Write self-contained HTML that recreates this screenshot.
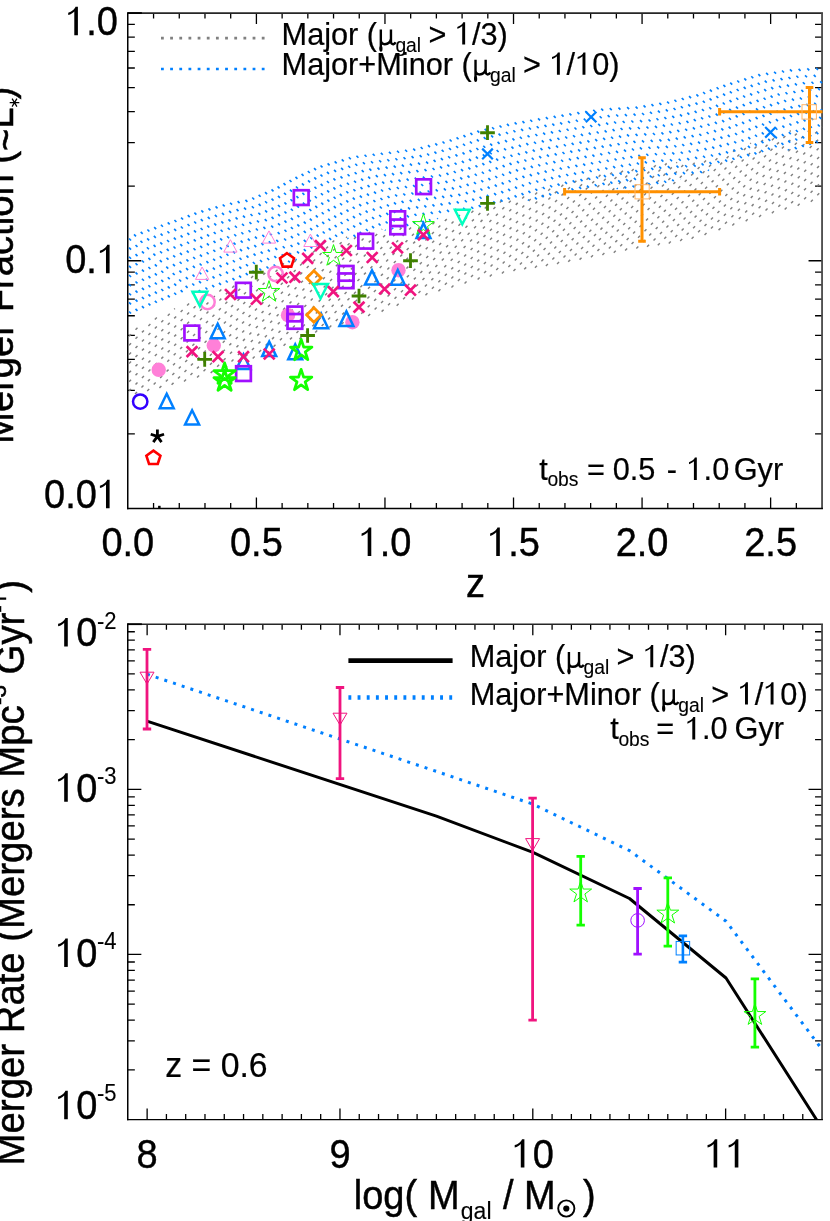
<!DOCTYPE html>
<html><head><meta charset="utf-8"><title>chart</title>
<style>html,body{margin:0;padding:0;background:#fff;}svg{display:block;will-change:transform;}</style></head>
<body>
<svg width="830" height="1221" viewBox="0 0 830 1221">
<rect width="830" height="1221" fill="#fff"/>
<path d="M153.56 508.5L153.56 503M153.56 13.05L153.56 18.55M179.27 508.5L179.27 503M179.27 13.05L179.27 18.55M204.98 508.5L204.98 503M204.98 13.05L204.98 18.55M230.69 508.5L230.69 503M230.69 13.05L230.69 18.55M256.41 508.5L256.41 497.5M256.41 13.05L256.41 24.05M282.12 508.5L282.12 503M282.12 13.05L282.12 18.55M307.83 508.5L307.83 503M307.83 13.05L307.83 18.55M333.54 508.5L333.54 503M333.54 13.05L333.54 18.55M359.25 508.5L359.25 503M359.25 13.05L359.25 18.55M384.96 508.5L384.96 497.5M384.96 13.05L384.96 24.05M410.67 508.5L410.67 503M410.67 13.05L410.67 18.55M436.38 508.5L436.38 503M436.38 13.05L436.38 18.55M462.09 508.5L462.09 503M462.09 13.05L462.09 18.55M487.81 508.5L487.81 503M487.81 13.05L487.81 18.55M513.52 508.5L513.52 497.5M513.52 13.05L513.52 24.05M539.23 508.5L539.23 503M539.23 13.05L539.23 18.55M564.94 508.5L564.94 503M564.94 13.05L564.94 18.55M590.65 508.5L590.65 503M590.65 13.05L590.65 18.55M616.36 508.5L616.36 503M616.36 13.05L616.36 18.55M642.07 508.5L642.07 497.5M642.07 13.05L642.07 24.05M667.78 508.5L667.78 503M667.78 13.05L667.78 18.55M693.49 508.5L693.49 503M693.49 13.05L693.49 18.55M719.21 508.5L719.21 503M719.21 13.05L719.21 18.55M744.92 508.5L744.92 503M744.92 13.05L744.92 18.55M770.63 508.5L770.63 497.5M770.63 13.05L770.63 24.05M796.34 508.5L796.34 503M796.34 13.05L796.34 18.55M127.85 433.93L134.85 433.93M822.05 433.93L815.05 433.93M127.85 390.31L134.85 390.31M822.05 390.31L815.05 390.31M127.85 359.35L134.85 359.35M822.05 359.35L815.05 359.35M127.85 335.35L134.85 335.35M822.05 335.35L815.05 335.35M127.85 315.73L134.85 315.73M822.05 315.73L815.05 315.73M127.85 299.15L134.85 299.15M822.05 299.15L815.05 299.15M127.85 284.78L134.85 284.78M822.05 284.78L815.05 284.78M127.85 272.11L134.85 272.11M822.05 272.11L815.05 272.11M127.85 260.77L141.35 260.77M822.05 260.77L808.55 260.77M127.85 186.2L134.85 186.2M822.05 186.2L815.05 186.2M127.85 142.58L134.85 142.58M822.05 142.58L815.05 142.58M127.85 111.63L134.85 111.63M822.05 111.63L815.05 111.63M127.85 87.62L134.85 87.62M822.05 87.62L815.05 87.62M127.85 68.01L134.85 68.01M822.05 68.01L815.05 68.01M127.85 51.42L134.85 51.42M822.05 51.42L815.05 51.42M127.85 37.06L134.85 37.06M822.05 37.06L815.05 37.06M127.85 24.39L134.85 24.39M822.05 24.39L815.05 24.39M147.13 1119.6L147.13 1108.6M147.13 624.2L147.13 635.2M166.42 1119.6L166.42 1114.1M166.42 624.2L166.42 629.7M185.7 1119.6L185.7 1114.1M185.7 624.2L185.7 629.7M204.98 1119.6L204.98 1114.1M204.98 624.2L204.98 629.7M224.27 1119.6L224.27 1114.1M224.27 624.2L224.27 629.7M243.55 1119.6L243.55 1114.1M243.55 624.2L243.55 629.7M262.83 1119.6L262.83 1114.1M262.83 624.2L262.83 629.7M282.12 1119.6L282.12 1114.1M282.12 624.2L282.12 629.7M301.4 1119.6L301.4 1114.1M301.4 624.2L301.4 629.7M320.68 1119.6L320.68 1114.1M320.68 624.2L320.68 629.7M339.97 1119.6L339.97 1108.6M339.97 624.2L339.97 635.2M359.25 1119.6L359.25 1114.1M359.25 624.2L359.25 629.7M378.53 1119.6L378.53 1114.1M378.53 624.2L378.53 629.7M397.82 1119.6L397.82 1114.1M397.82 624.2L397.82 629.7M417.1 1119.6L417.1 1114.1M417.1 624.2L417.1 629.7M436.38 1119.6L436.38 1114.1M436.38 624.2L436.38 629.7M455.67 1119.6L455.67 1114.1M455.67 624.2L455.67 629.7M474.95 1119.6L474.95 1114.1M474.95 624.2L474.95 629.7M494.23 1119.6L494.23 1114.1M494.23 624.2L494.23 629.7M513.52 1119.6L513.52 1114.1M513.52 624.2L513.52 629.7M532.8 1119.6L532.8 1108.6M532.8 624.2L532.8 635.2M552.08 1119.6L552.08 1114.1M552.08 624.2L552.08 629.7M571.37 1119.6L571.37 1114.1M571.37 624.2L571.37 629.7M590.65 1119.6L590.65 1114.1M590.65 624.2L590.65 629.7M609.93 1119.6L609.93 1114.1M609.93 624.2L609.93 629.7M629.22 1119.6L629.22 1114.1M629.22 624.2L629.22 629.7M648.5 1119.6L648.5 1114.1M648.5 624.2L648.5 629.7M667.78 1119.6L667.78 1114.1M667.78 624.2L667.78 629.7M687.07 1119.6L687.07 1114.1M687.07 624.2L687.07 629.7M706.35 1119.6L706.35 1114.1M706.35 624.2L706.35 629.7M725.63 1119.6L725.63 1108.6M725.63 624.2L725.63 635.2M744.92 1119.6L744.92 1114.1M744.92 624.2L744.92 629.7M764.2 1119.6L764.2 1114.1M764.2 624.2L764.2 629.7M783.48 1119.6L783.48 1114.1M783.48 624.2L783.48 629.7M802.77 1119.6L802.77 1114.1M802.77 624.2L802.77 629.7M127.85 1069.89L134.85 1069.89M822.05 1069.89L815.05 1069.89M127.85 1040.81L134.85 1040.81M822.05 1040.81L815.05 1040.81M127.85 1020.18L134.85 1020.18M822.05 1020.18L815.05 1020.18M127.85 1004.18L134.85 1004.18M822.05 1004.18L815.05 1004.18M127.85 991.1L134.85 991.1M822.05 991.1L815.05 991.1M127.85 980.05L134.85 980.05M822.05 980.05L815.05 980.05M127.85 970.47L134.85 970.47M822.05 970.47L815.05 970.47M127.85 962.02L134.85 962.02M822.05 962.02L815.05 962.02M127.85 954.47L141.35 954.47M822.05 954.47L808.55 954.47M127.85 904.76L134.85 904.76M822.05 904.76L815.05 904.76M127.85 875.68L134.85 875.68M822.05 875.68L815.05 875.68M127.85 855.05L134.85 855.05M822.05 855.05L815.05 855.05M127.85 839.04L134.85 839.04M822.05 839.04L815.05 839.04M127.85 825.97L134.85 825.97M822.05 825.97L815.05 825.97M127.85 814.91L134.85 814.91M822.05 814.91L815.05 814.91M127.85 805.34L134.85 805.34M822.05 805.34L815.05 805.34M127.85 796.89L134.85 796.89M822.05 796.89L815.05 796.89M127.85 789.33L141.35 789.33M822.05 789.33L808.55 789.33M127.85 739.62L134.85 739.62M822.05 739.62L815.05 739.62M127.85 710.54L134.85 710.54M822.05 710.54L815.05 710.54M127.85 689.91L134.85 689.91M822.05 689.91L815.05 689.91M127.85 673.91L134.85 673.91M822.05 673.91L815.05 673.91M127.85 660.83L134.85 660.83M822.05 660.83L815.05 660.83M127.85 649.78L134.85 649.78M822.05 649.78L815.05 649.78M127.85 640.2L134.85 640.2M822.05 640.2L815.05 640.2M127.85 631.76L134.85 631.76M822.05 631.76L815.05 631.76" stroke="#000" stroke-width="1.3" fill="none"/>
<path d="M127.85 13.05H822.9499999999999" fill="none" stroke="#262626" stroke-width="1.65"/>
<path d="M822.05 13.05V508.5" fill="none" stroke="#484848" stroke-width="1.8"/>
<path d="M127.75 12.15V509.2" fill="none" stroke="#000" stroke-width="1.5"/>
<path d="M127.05 508.5H822.9499999999999" fill="none" stroke="#000" stroke-width="1.45"/>
<path d="M127.85 13.05h14" fill="none" stroke="#000" stroke-width="1.8"/>
<path d="M127.85 624.2H822.9499999999999" fill="none" stroke="#262626" stroke-width="1.65"/>
<path d="M822.05 624.2V1119.6" fill="none" stroke="#484848" stroke-width="1.8"/>
<path d="M127.75 623.3000000000001V1120.3" fill="none" stroke="#000" stroke-width="1.5"/>
<path d="M127.05 1119.6H822.9499999999999" fill="none" stroke="#000" stroke-width="1.45"/>
<path d="M127.85 624.2h14" fill="none" stroke="#000" stroke-width="1.8"/>
<path d="M128 337.21L141.21 324 M128 346.33L158.15 316.18 M128 355.45L174.9 308.54 M128 364.57L190.35 302.22 M128 373.69L205.77 295.92 M128 382.81L221.41 289.41 M128 391.94L238.21 281.73 M133.97 395.09L254.54 274.51 M146.18 392L269.51 268.67 M158.36 388.94L284.47 262.83 M170.51 385.92L299.9 256.52 M182.98 382.56L316.09 249.46 M196.02 378.65L334.23 240.43 M209.62 374.17L347.05 236.73 M223.98 368.93L359.61 233.3 M238.02 364.02L371.74 230.29 M251.63 359.52L382.08 229.07 M266 354.28L392.9 227.37 M282.5 346.89L403.76 225.64 M298.37 340.14L414.65 223.87 M314.16 333.48L426.02 221.62 M328.26 328.5L437.39 219.37 M340.55 325.33L449.28 216.61 M353.75 321.26L462.31 212.69 M367.13 316.99L475.35 208.78 M380.56 312.69L488.65 204.6 M395.61 306.76L501.97 200.4 M410.96 300.54L515.33 196.16 M424.4 296.21L528.74 191.87 M437.38 292.35L541.86 187.87 M450.41 288.45L553.93 184.93 M463.5 284.48L566 181.98 M476.6 280.5L577.64 179.46 M488.74 277.49L589.06 177.16 M500.87 274.47L600.48 174.87 M512.43 272.03L611.89 172.58 M523.16 270.42L623.3 170.29 M533.9 268.81L634.59 168.12 M544.84 266.99L645.33 166.5 M556 264.95L656.06 164.89 M567.15 262.92L666.69 163.38 M578.51 260.69L677.04 162.16 M589.93 258.39L687.38 160.94 M601.35 256.09L698.08 159.36 M612.71 253.85L709.92 156.64 M624.08 251.6L721.77 153.91 M635.29 249.51L735.62 149.18 M646.03 247.9L750.86 143.07 M656.76 246.29L764.93 138.12 M667.72 244.45L777.96 134.2 M679.14 242.15L790.69 130.6 M690.56 239.85L801.34 129.07 M703.48 236.05L811.99 127.54 M717.48 231.18L822 126.65 M731.26 226.52L822 135.78 M744.64 222.25L822 144.9 M758.03 217.99L822 154.02 M770.83 214.31L822 163.14 M783.63 210.63L822 172.26 M796.62 206.76L822 181.38 M809.76 202.74L822 190.51" fill="none" stroke="#808080" stroke-width="1.45" stroke-dasharray="2.8 6.32" stroke-dashoffset="-1.5"/>
<path d="M814.92 66.95L822 74.02 M806.23 67.37L822 83.14 M797.53 67.8L822 92.27 M788.88 68.26L822 101.39 M780.95 69.45L822 110.51 M773.01 70.65L822 119.63 M765.08 71.84L822 128.75 M757.25 73.12L822 137.87 M750.23 75.23L822 147 M743.21 77.33L814.35 148.47 M736.19 79.43L805.75 148.99 M729.17 81.53L797.16 149.52 M722.32 83.8L788.63 150.11 M715.57 86.18L780.76 151.36 M708.82 88.55L772.89 152.62 M702.07 90.92L765.03 153.88 M695.32 93.29L757.26 155.23 M688 95.09L750.35 157.44 M680.68 96.9L743.43 159.64 M673.36 98.7L736.51 161.84 M666.04 100.5L729.59 164.05 M658.3 101.87L722.68 166.25 M650.39 103.09L715.76 168.46 M642.48 104.3L708.85 170.67 M634.57 105.51L701.94 172.88 M626.07 106.14L695.02 175.08 M617.39 106.58L687.93 177.12 M608.71 107.02L680.85 179.16 M600.14 107.57L673.76 181.19 M592.19 108.74L666.68 183.23 M584.24 109.91L658.97 184.64 M576.28 111.08L650.88 185.68 M568.35 112.27L642.79 186.71 M560.51 113.55L634.71 187.74 M552.66 114.82L626.25 188.41 M544.82 116.1L617.68 188.96 M536.99 117.39L609.1 189.5 M529.19 118.71L600.55 190.07 M521.39 120.03L592.22 190.87 M513.59 121.35L583.9 191.67 M505.89 122.78L575.58 192.47 M498.47 124.48L567.48 193.49 M491.05 126.19L559.85 194.98 M483.63 127.89L552.22 196.47 M476.24 129.62L544.59 197.97 M469.33 131.82L536.85 199.35 M462.41 134.03L528.88 200.5 M455.5 136.24L520.9 201.64 M448.59 138.45L512.93 202.79 M441.48 140.46L505.03 204.02 M434.2 142.3L497.27 205.38 M426.91 144.14L489.51 206.74 M419.63 145.98L481.75 208.1 M412.16 147.63L474.15 209.63 M404.08 148.67L466.89 211.48 M395.99 149.7L459.62 213.34 M387.9 150.74L452.36 215.2 M379.79 151.75L445.09 217.05 M371.66 152.74L437.83 218.91 M363.52 153.72L430.56 220.77 M355.38 154.71L423.3 222.62 M347.77 156.22L416.04 224.48 M340.7 158.26L408.49 226.06 M333.62 160.31L400.84 227.52 M326.55 162.36L393.18 228.99 M319.47 164.4L385.53 230.46 M312.99 167.04L377.55 231.61 M306.75 169.93L369.48 232.65 M300.52 172.82L362.43 234.73 M294.41 175.83L355.38 236.8 M288.44 178.98L348.33 238.87 M282.48 182.14L341.25 240.91 M276.52 185.3L334.17 242.95 M270.46 188.36L328.06 245.97 M264.03 191.06L321.98 249.01 M257.6 193.75L315.9 252.05 M251.17 196.44L309.49 254.76 M244.36 198.76L303.01 257.4 M236.55 200.06L296.54 260.05 M229.02 201.65L289.82 262.45 M221.64 203.4L282.8 264.56 M214.5 205.38L275.79 266.66 M207.38 207.38L268.77 268.77 M200.26 209.38L261.75 270.87 M193.32 211.56L255.06 273.3 M186.67 214.03L248.73 276.09 M180.02 216.5L242.4 278.88 M173.36 218.97L235.98 281.59 M166.65 221.38L229.3 284.03 M159.88 223.73L222.62 286.47 M153.11 226.08L215.94 288.91 M146.34 228.44L208.53 290.63 M139.64 230.86L201.1 292.32 M132.96 233.3L193.67 294 M128 237.46L186.78 296.24 M128 246.58L180.28 298.87 M128 255.7L173.82 301.53 M128 264.83L167.51 304.34 M128 273.95L161.2 307.15 M128 283.07L154.48 309.55 M128 292.19L147.57 311.76 M128 301.31L140.86 314.17 M128 310.43L134.41 316.85" fill="none" stroke="#0080ff" stroke-width="1.65" stroke-dasharray="2.8 6.32" stroke-dashoffset="-1.5"/>
<circle cx="158.7" cy="369.8" r="7.2" fill="#ff80d8"/>
<circle cx="213.8" cy="345.5" r="7.2" fill="#ff80d8"/>
<circle cx="288" cy="315.2" r="7.2" fill="#ff80d8"/>
<circle cx="352.4" cy="322.2" r="7.2" fill="#ff80d8"/>
<circle cx="398.5" cy="270.2" r="7.2" fill="#ff80d8"/>
<path d="M166.7 393.8L173.7 408.2L159.7 408.2Z" fill="none" stroke="#0080ff" stroke-width="2.5" stroke-linejoin="miter"/>
<path d="M192.1 410.3L199.1 424.5L185.1 424.5Z" fill="none" stroke="#0080ff" stroke-width="2.5" stroke-linejoin="miter"/>
<path d="M217.7 323.8L224.7 338.3L210.7 338.3Z" fill="none" stroke="#0080ff" stroke-width="2.5" stroke-linejoin="miter"/>
<path d="M243.5 354.5L250.5 369L236.5 369Z" fill="none" stroke="#0080ff" stroke-width="2.5" stroke-linejoin="miter"/>
<path d="M269.2 341.6L276.2 356.1L262.2 356.1Z" fill="none" stroke="#0080ff" stroke-width="2.5" stroke-linejoin="miter"/>
<path d="M295.2 344.4L302.2 359.3L288.2 359.3Z" fill="none" stroke="#0080ff" stroke-width="2.5" stroke-linejoin="miter"/>
<path d="M321.1 313.6L328.1 328.2L314.1 328.2Z" fill="none" stroke="#0080ff" stroke-width="2.5" stroke-linejoin="miter"/>
<path d="M346.4 311.4L353.4 325.9L339.4 325.9Z" fill="none" stroke="#0080ff" stroke-width="2.5" stroke-linejoin="miter"/>
<path d="M372 270.4L379 284.6L365 284.6Z" fill="none" stroke="#0080ff" stroke-width="2.5" stroke-linejoin="miter"/>
<path d="M397.8 270L404.8 284.7L390.8 284.7Z" fill="none" stroke="#0080ff" stroke-width="2.5" stroke-linejoin="miter"/>
<path d="M423.5 223.2L430.5 238.1L416.5 238.1Z" fill="none" stroke="#0080ff" stroke-width="2.5" stroke-linejoin="miter"/>
<polygon points="269,280.6 271.56,288.48 279.84,288.48 273.14,293.35 275.7,301.22 269,296.35 262.3,301.22 264.86,293.35 258.16,288.48 266.44,288.48" fill="none" stroke="#14ff00" stroke-width="1.0" stroke-linejoin="round"/>
<polygon points="333.5,244.6 336.06,252.48 344.34,252.48 337.64,257.35 340.2,265.22 333.5,260.35 326.8,265.22 329.36,257.35 322.66,252.48 330.94,252.48" fill="none" stroke="#14ff00" stroke-width="1.0" stroke-linejoin="round"/>
<polygon points="423.4,213.7 425.96,221.58 434.24,221.58 427.54,226.45 430.1,234.32 423.4,229.45 416.7,234.32 419.26,226.45 412.56,221.58 420.84,221.58" fill="none" stroke="#14ff00" stroke-width="1.0" stroke-linejoin="round"/>
<path d="M202.1 267L208.7 279.4L195.5 279.4Z" fill="none" stroke="#ff80d8" stroke-width="1.0" stroke-linejoin="miter"/>
<path d="M230.4 239.7L237 252.1L223.8 252.1Z" fill="none" stroke="#ff80d8" stroke-width="1.0" stroke-linejoin="miter"/>
<path d="M269 230.9L275.6 243.1L262.4 243.1Z" fill="none" stroke="#ff80d8" stroke-width="1.0" stroke-linejoin="miter"/>
<path d="M310.4 234.1L317 246.5L303.8 246.5Z" fill="none" stroke="#ff80d8" stroke-width="1.0" stroke-linejoin="miter"/>
<circle cx="207.5" cy="302" r="7.2" fill="none" stroke="#ff80d8" stroke-width="2.5"/>
<circle cx="275.6" cy="274" r="7.2" fill="none" stroke="#ff80d8" stroke-width="2.5"/>
<rect x="184.45" y="325.65" width="14.7" height="14.7" fill="none" stroke="#a010ff" stroke-width="2.7"/>
<rect x="236.05" y="282.85" width="14.7" height="14.7" fill="none" stroke="#a010ff" stroke-width="2.7"/>
<rect x="236.15" y="366.25" width="14.7" height="14.7" fill="none" stroke="#a010ff" stroke-width="2.7"/>
<rect x="293.85" y="190.25" width="14.7" height="14.7" fill="none" stroke="#a010ff" stroke-width="2.7"/>
<rect x="358.35" y="233.85" width="14.7" height="14.7" fill="none" stroke="#a010ff" stroke-width="2.7"/>
<rect x="416.25" y="179.35" width="14.7" height="14.7" fill="none" stroke="#a010ff" stroke-width="2.7"/>
<rect x="287.55" y="306.6" width="14.7" height="14.7" fill="none" stroke="#a010ff" stroke-width="2.7"/>
<rect x="287.55" y="314.05" width="14.7" height="14.7" fill="none" stroke="#a010ff" stroke-width="2.7"/>
<rect x="338.75" y="266" width="14.7" height="14.7" fill="none" stroke="#a010ff" stroke-width="2.7"/>
<rect x="338.75" y="273.45" width="14.7" height="14.7" fill="none" stroke="#a010ff" stroke-width="2.7"/>
<rect x="390.35" y="211.35" width="14.7" height="14.7" fill="none" stroke="#a010ff" stroke-width="2.7"/>
<rect x="390.35" y="219.55" width="14.7" height="14.7" fill="none" stroke="#a010ff" stroke-width="2.7"/>
<path d="M313.9 270.8L321.1 278L313.9 285.2L306.7 278Z" fill="none" stroke="#ff9000" stroke-width="2.8"/>
<path d="M313.9 307.8L321.1 315L313.9 322.2L306.7 315Z" fill="none" stroke="#ff9000" stroke-width="2.8"/>
<path d="M199.9 306.3L207.3 291.65L192.5 291.65Z" fill="none" stroke="#00ffbf" stroke-width="2.5"/>
<path d="M320.6 298.5L328 284.05L313.2 284.05Z" fill="none" stroke="#00ffbf" stroke-width="2.5"/>
<path d="M462.3 224.2L469.7 209.75L454.9 209.75Z" fill="none" stroke="#00ffbf" stroke-width="2.5"/>
<path d="M186.6 346.2L197.4 357M186.6 357L197.4 346.2" fill="none" stroke="#f0147f" stroke-width="2.7"/>
<path d="M212.6 351.3L223.4 362.1M212.6 362.1L223.4 351.3" fill="none" stroke="#f0147f" stroke-width="2.7"/>
<path d="M238.1 351.3L248.9 362.1M238.1 362.1L248.9 351.3" fill="none" stroke="#f0147f" stroke-width="2.7"/>
<path d="M263.8 348.6L274.6 359.4M263.8 359.4L274.6 348.6" fill="none" stroke="#f0147f" stroke-width="2.7"/>
<path d="M225 289.1L235.8 299.9M225 299.9L235.8 289.1" fill="none" stroke="#f0147f" stroke-width="2.7"/>
<path d="M251 293.8L261.8 304.6M251 304.6L261.8 293.8" fill="none" stroke="#f0147f" stroke-width="2.7"/>
<path d="M276.6 272.6L287.4 283.4M276.6 283.4L287.4 272.6" fill="none" stroke="#f0147f" stroke-width="2.7"/>
<path d="M289.5 271.8L300.3 282.6M289.5 282.6L300.3 271.8" fill="none" stroke="#f0147f" stroke-width="2.7"/>
<path d="M302.3 253L313.1 263.8M302.3 263.8L313.1 253" fill="none" stroke="#f0147f" stroke-width="2.7"/>
<path d="M315 240.2L325.8 251M315 251L325.8 240.2" fill="none" stroke="#f0147f" stroke-width="2.7"/>
<path d="M327.9 286.2L338.7 297M327.9 297L338.7 286.2" fill="none" stroke="#f0147f" stroke-width="2.7"/>
<path d="M341 245.1L351.8 255.9M341 255.9L351.8 245.1" fill="none" stroke="#f0147f" stroke-width="2.7"/>
<path d="M353.6 301.7L364.4 312.5M353.6 312.5L364.4 301.7" fill="none" stroke="#f0147f" stroke-width="2.7"/>
<path d="M366.8 252.1L377.6 262.9M366.8 262.9L377.6 252.1" fill="none" stroke="#f0147f" stroke-width="2.7"/>
<path d="M379.2 283.6L390 294.4M379.2 294.4L390 283.6" fill="none" stroke="#f0147f" stroke-width="2.7"/>
<path d="M392.1 242.4L402.9 253.2M392.1 253.2L402.9 242.4" fill="none" stroke="#f0147f" stroke-width="2.7"/>
<path d="M405.1 284.8L415.9 295.6M405.1 295.6L415.9 284.8" fill="none" stroke="#f0147f" stroke-width="2.7"/>
<path d="M418 229.5L428.8 240.3M418 240.3L428.8 229.5" fill="none" stroke="#f0147f" stroke-width="2.7"/>
<path d="M197.35 359.3H212.05M204.7 351.95V366.65" fill="none" stroke="#3f8000" stroke-width="2.85"/>
<path d="M248.95 272.2H263.65M256.3 264.85V279.55" fill="none" stroke="#3f8000" stroke-width="2.85"/>
<path d="M300.25 335.5H314.95M307.6 328.15V342.85" fill="none" stroke="#3f8000" stroke-width="2.85"/>
<path d="M351.65 296H366.35M359 288.65V303.35" fill="none" stroke="#3f8000" stroke-width="2.85"/>
<path d="M403.15 260.7H417.85M410.5 253.35V268.05" fill="none" stroke="#3f8000" stroke-width="2.85"/>
<path d="M480.15 132.7H494.85M487.5 125.35V140.05" fill="none" stroke="#3f8000" stroke-width="2.85"/>
<path d="M480.15 203.3H494.85M487.5 195.95V210.65" fill="none" stroke="#3f8000" stroke-width="2.85"/>
<polygon points="224.6,362.95 227.13,370.72 235.3,370.72 228.69,375.53 231.21,383.3 224.6,378.5 217.99,383.3 220.51,375.53 213.9,370.72 222.07,370.72" fill="none" stroke="#14ff00" stroke-width="2.8" stroke-linejoin="round"/>
<polygon points="224.6,369.95 227.13,377.72 235.3,377.72 228.69,382.53 231.21,390.3 224.6,385.5 217.99,390.3 220.51,382.53 213.9,377.72 222.07,377.72" fill="none" stroke="#14ff00" stroke-width="2.8" stroke-linejoin="round"/>
<polygon points="301.2,339.35 303.73,347.12 311.9,347.12 305.29,351.93 307.81,359.7 301.2,354.9 294.59,359.7 297.11,351.93 290.5,347.12 298.67,347.12" fill="none" stroke="#14ff00" stroke-width="2.8" stroke-linejoin="round"/>
<polygon points="301.1,369.35 303.63,377.12 311.8,377.12 305.19,381.93 307.71,389.7 301.1,384.9 294.49,389.7 297.01,381.93 290.4,377.12 298.57,377.12" fill="none" stroke="#14ff00" stroke-width="2.8" stroke-linejoin="round"/>
<path d="M482.2 148.6L492.8 159.2M482.2 159.2L492.8 148.6" fill="none" stroke="#0080ff" stroke-width="2.2"/>
<path d="M585.8 111.7L596.4 122.3M585.8 122.3L596.4 111.7" fill="none" stroke="#0080ff" stroke-width="2.2"/>
<path d="M765.2 127L775.8 137.6M765.2 137.6L775.8 127" fill="none" stroke="#0080ff" stroke-width="2.2"/>
<polygon points="153.4,450.6 160.44,455.71 157.75,463.99 149.05,463.99 146.36,455.71" fill="none" stroke="#ff0000" stroke-width="2.6"/>
<polygon points="287,253.2 294.04,258.31 291.35,266.59 282.65,266.59 279.96,258.31" fill="none" stroke="#ff0000" stroke-width="2.6"/>
<circle cx="140.2" cy="401.6" r="7.2" fill="none" stroke="#3300ff" stroke-width="2.5"/>
<path d="M157.4 436.4L157.4 429.4M157.4 436.4L164.06 434.24M157.4 436.4L161.51 442.06M157.4 436.4L153.29 442.06M157.4 436.4L150.74 434.24" stroke="#000" stroke-width="2.8" fill="none"/>
<rect x="158.1" y="505.8" width="2.5" height="2.4" fill="#000"/>
<path d="M642 157.8V241.3M638.2 157.8H645.8M638.2 241.3H645.8" fill="none" stroke="#ff9000" stroke-width="3.0"/>
<path d="M564.6 191.7H719.6M564.6 187.9V195.5M719.6 187.9V195.5" fill="none" stroke="#ff9000" stroke-width="3.0"/>
<path d="M809.5 87.4V142.6M805.7 87.4H813.3M805.7 142.6H813.3" fill="none" stroke="#ff9000" stroke-width="3.0"/>
<path d="M719.6 111.8H822.5M719.6 108V115.6" fill="none" stroke="#ff9000" stroke-width="3.0"/>
<rect x="635" y="184.7" width="14.2" height="14.2" fill="none" stroke="#ffb566" stroke-width="1.0"/>
<rect x="802" y="104.7" width="14.4" height="14.4" fill="none" stroke="#ffb566" stroke-width="1.0"/>
<path d="M161 38.2H266" stroke="#808080" stroke-width="2.7" stroke-dasharray="2.8 6.36" fill="none"/>
<path d="M161 69H266" stroke="#0080ff" stroke-width="2.7" stroke-dasharray="2.8 6.36" fill="none"/>
<clipPath id="cb"><rect x="127.85" y="624.2" width="694.1999999999999" height="495.39999999999986"/></clipPath>
<polyline clip-path="url(#cb)" points="147.7,721.3 436.4,816.2 533,852.4 629.5,898.5 726,978 822.5,1129" fill="none" stroke="#000" stroke-width="2.95" stroke-linejoin="round"/>
<polyline clip-path="url(#cb)" points="147,674.2 436.4,771.4 533,804.2 629.5,850.6 726,921.2 822.5,1050" fill="none" stroke="#0080ff" stroke-width="3.0" stroke-dasharray="3 6.15"/>
<path d="M147 649.4V729M142.8 649.4H151.2M142.8 729H151.2" fill="none" stroke="#f0147f" stroke-width="2.8"/>
<path d="M147 684L154 672.2L140 672.2Z" fill="none" stroke="#f0147f" stroke-width="1.0"/>
<path d="M340 687.5V778.6M335.8 687.5H344.2M335.8 778.6H344.2" fill="none" stroke="#f0147f" stroke-width="2.8"/>
<path d="M340 725L347 713.2L333 713.2Z" fill="none" stroke="#f0147f" stroke-width="1.0"/>
<path d="M532.6 798.2V1020.2M528.4 798.2H536.8M528.4 1020.2H536.8" fill="none" stroke="#f0147f" stroke-width="2.8"/>
<path d="M532.6 850.6L539.6 838.6L525.6 838.6Z" fill="none" stroke="#f0147f" stroke-width="1.0"/>
<path d="M580.7 856.3V925.1M576.5 856.3H584.9M576.5 925.1H584.9" fill="none" stroke="#14ff00" stroke-width="2.8"/>
<polygon points="580.7,881.1 583.28,889.05 591.64,889.05 584.88,893.96 587.46,901.9 580.7,896.99 573.94,901.9 576.52,893.96 569.76,889.05 578.12,889.05" fill="none" stroke="#14ff00" stroke-width="1.0" stroke-linejoin="round"/>
<path d="M637.6 888.5V954.2M633.4 888.5H641.8M633.4 954.2H641.8" fill="none" stroke="#a010ff" stroke-width="2.8"/>
<circle cx="637.6" cy="920.4" r="6.8" fill="none" stroke="#a010ff" stroke-width="1.0"/>
<path d="M667.8 877.8V946.2M663.6 877.8H672M663.6 946.2H672" fill="none" stroke="#14ff00" stroke-width="2.8"/>
<polygon points="667.8,902.2 670.38,910.15 678.74,910.15 671.98,915.06 674.56,923 667.8,918.09 661.04,923 663.62,915.06 656.86,910.15 665.22,910.15" fill="none" stroke="#14ff00" stroke-width="1.0" stroke-linejoin="round"/>
<path d="M682.9 935.9V962.1M678.7 935.9H687.1M678.7 962.1H687.1" fill="none" stroke="#0080ff" stroke-width="2.6"/>
<rect x="676.15" y="941.45" width="13.5" height="13.5" fill="none" stroke="#0080ff" stroke-width="1.0"/>
<path d="M754.9 978.8V1047.2M750.7 978.8H759.1M750.7 1047.2H759.1" fill="none" stroke="#14ff00" stroke-width="2.8"/>
<polygon points="754.9,1003.6 757.48,1011.55 765.84,1011.55 759.08,1016.46 761.66,1024.4 754.9,1019.49 748.14,1024.4 750.72,1016.46 743.96,1011.55 752.32,1011.55" fill="none" stroke="#14ff00" stroke-width="1.0" stroke-linejoin="round"/>
<path d="M348.4 660.6H452.6" stroke="#000" stroke-width="4.6" fill="none"/>
<path d="M348.4 697.5H452.6" stroke="#0080ff" stroke-width="4.6" stroke-dasharray="2.9 6.27" fill="none"/>
<g transform="translate(101.44,556) scale(1,1.07)" fill="#000" stroke="#000" stroke-width="0.4"><text x="0" y="0" font-size="38" font-family="Liberation Sans, sans-serif">0.0</text></g>
<g transform="translate(229.99,556) scale(1,1.07)" fill="#000" stroke="#000" stroke-width="0.4"><text x="0" y="0" font-size="38" font-family="Liberation Sans, sans-serif">0.5</text></g>
<g transform="translate(358.55,556) scale(1,1.07)" fill="#000" stroke="#000" stroke-width="0.4"><path transform="translate(0,0) scale(38,-38)" stroke="none" d="M.335 0V.698H.272C.25 .64 .17 .575 .08 .555V.494C.15 .51 .21 .55 .24 .582V0Z"/><text x="21.13" y="0" font-size="38" font-family="Liberation Sans, sans-serif">.0</text></g>
<g transform="translate(487.1,556) scale(1,1.07)" fill="#000" stroke="#000" stroke-width="0.4"><path transform="translate(0,0) scale(38,-38)" stroke="none" d="M.335 0V.698H.272C.25 .64 .17 .575 .08 .555V.494C.15 .51 .21 .55 .24 .582V0Z"/><text x="21.13" y="0" font-size="38" font-family="Liberation Sans, sans-serif">.5</text></g>
<g transform="translate(615.66,556) scale(1,1.07)" fill="#000" stroke="#000" stroke-width="0.4"><text x="0" y="0" font-size="38" font-family="Liberation Sans, sans-serif">2.0</text></g>
<g transform="translate(744.22,556) scale(1,1.07)" fill="#000" stroke="#000" stroke-width="0.4"><text x="0" y="0" font-size="38" font-family="Liberation Sans, sans-serif">2.5</text></g>
<g transform="translate(65.17,35.2) scale(1,1.07)" fill="#000" stroke="#000" stroke-width="0.4"><path transform="translate(0,0) scale(38,-38)" stroke="none" d="M.335 0V.698H.272C.25 .64 .17 .575 .08 .555V.494C.15 .51 .21 .55 .24 .582V0Z"/><text x="21.13" y="0" font-size="38" font-family="Liberation Sans, sans-serif">.0</text></g>
<g transform="translate(65.17,273.2) scale(1,1.07)" fill="#000" stroke="#000" stroke-width="0.4"><text x="0" y="0" font-size="38" font-family="Liberation Sans, sans-serif">0.</text><path transform="translate(31.69,0) scale(38,-38)" stroke="none" d="M.335 0V.698H.272C.25 .64 .17 .575 .08 .555V.494C.15 .51 .21 .55 .24 .582V0Z"/></g>
<g transform="translate(44.04,508.2) scale(1,1.07)" fill="#000" stroke="#000" stroke-width="0.4"><text x="0" y="0" font-size="38" font-family="Liberation Sans, sans-serif">0.0</text><path transform="translate(52.83,0) scale(38,-38)" stroke="none" d="M.335 0V.698H.272C.25 .64 .17 .575 .08 .555V.494C.15 .51 .21 .55 .24 .582V0Z"/></g>
<g transform="translate(465.98,597.4) scale(1,1.07)" fill="#000" stroke="#000" stroke-width="0.4"><text x="0" y="0" font-size="38" font-family="Liberation Sans, sans-serif">z</text></g>
<g transform="translate(136.57,1167.6) scale(1,1.07)" fill="#000" stroke="#000" stroke-width="0.4"><text x="0" y="0" font-size="38" font-family="Liberation Sans, sans-serif">8</text></g>
<g transform="translate(329.4,1167.6) scale(1,1.07)" fill="#000" stroke="#000" stroke-width="0.4"><text x="0" y="0" font-size="38" font-family="Liberation Sans, sans-serif">9</text></g>
<g transform="translate(511.67,1167.6) scale(1,1.07)" fill="#000" stroke="#000" stroke-width="0.4"><path transform="translate(0,0) scale(38,-38)" stroke="none" d="M.335 0V.698H.272C.25 .64 .17 .575 .08 .555V.494C.15 .51 .21 .55 .24 .582V0Z"/><text x="21.13" y="0" font-size="38" font-family="Liberation Sans, sans-serif">0</text></g>
<g transform="translate(704.5,1167.6) scale(1,1.07)" fill="#000" stroke="#000" stroke-width="0.4"><path transform="translate(0,0) scale(38,-38)" stroke="none" d="M.335 0V.698H.272C.25 .64 .17 .575 .08 .555V.494C.15 .51 .21 .55 .24 .582V0Z"/><path transform="translate(21.13,0) scale(38,-38)" stroke="none" d="M.335 0V.698H.272C.25 .64 .17 .575 .08 .555V.494C.15 .51 .21 .55 .24 .582V0Z"/></g>
<g transform="translate(55.06,646.4) scale(1,1.07)" fill="#000" stroke="#000" stroke-width="0.4"><path transform="translate(0,0) scale(38,-38)" stroke="none" d="M.335 0V.698H.272C.25 .64 .17 .575 .08 .555V.494C.15 .51 .21 .55 .24 .582V0Z"/><text x="21.13" y="0" font-size="38" font-family="Liberation Sans, sans-serif">0</text></g>
<g transform="translate(97.02,628.5) scale(1,1.07)" fill="#000" stroke="#000" stroke-width="0.12"><text x="0" y="0" font-size="22" font-family="Liberation Sans, sans-serif">-2</text></g>
<g transform="translate(55.06,801.7) scale(1,1.07)" fill="#000" stroke="#000" stroke-width="0.4"><path transform="translate(0,0) scale(38,-38)" stroke="none" d="M.335 0V.698H.272C.25 .64 .17 .575 .08 .555V.494C.15 .51 .21 .55 .24 .582V0Z"/><text x="21.13" y="0" font-size="38" font-family="Liberation Sans, sans-serif">0</text></g>
<g transform="translate(97.02,783.8) scale(1,1.07)" fill="#000" stroke="#000" stroke-width="0.12"><text x="0" y="0" font-size="22" font-family="Liberation Sans, sans-serif">-3</text></g>
<g transform="translate(55.06,966.9) scale(1,1.07)" fill="#000" stroke="#000" stroke-width="0.4"><path transform="translate(0,0) scale(38,-38)" stroke="none" d="M.335 0V.698H.272C.25 .64 .17 .575 .08 .555V.494C.15 .51 .21 .55 .24 .582V0Z"/><text x="21.13" y="0" font-size="38" font-family="Liberation Sans, sans-serif">0</text></g>
<g transform="translate(97.02,949) scale(1,1.07)" fill="#000" stroke="#000" stroke-width="0.12"><text x="0" y="0" font-size="22" font-family="Liberation Sans, sans-serif">-4</text></g>
<g transform="translate(55.06,1119.2) scale(1,1.07)" fill="#000" stroke="#000" stroke-width="0.4"><path transform="translate(0,0) scale(38,-38)" stroke="none" d="M.335 0V.698H.272C.25 .64 .17 .575 .08 .555V.494C.15 .51 .21 .55 .24 .582V0Z"/><text x="21.13" y="0" font-size="38" font-family="Liberation Sans, sans-serif">0</text></g>
<g transform="translate(97.02,1101.3) scale(1,1.07)" fill="#000" stroke="#000" stroke-width="0.12"><text x="0" y="0" font-size="22" font-family="Liberation Sans, sans-serif">-5</text></g>
<g transform="translate(12.7,443.9) rotate(-90) scale(1,1.07)" fill="#000" stroke="#000" stroke-width="0.5"><text x="0" y="0" font-size="38.2" font-family="Liberation Sans, sans-serif">Merger&#160;Fraction&#160;(</text><text x="292.94" y="6.07" font-size="38.2" font-family="Liberation Sans, sans-serif">~</text><text x="315.24" y="0" font-size="38.2" font-family="Liberation Sans, sans-serif">L</text></g>
<g transform="translate(12.7,99.2) rotate(-90) scale(1,1.07)" fill="#000" stroke="#000" stroke-width="0.5"><text x="0" y="0" font-size="38" font-family="Liberation Sans, sans-serif">)</text></g>
<g transform="translate(14.5,102.6)" stroke="#000" stroke-width="1.25" fill="none"><path d="M-4.8 0H4.8M-2.4 -4L2.4 4M-2.4 4L2.4 -4"/></g>
<g transform="translate(23.7,1165.4) rotate(-90) scale(1,1.07)" fill="#000" stroke="#000" stroke-width="0.5"><text x="0" y="0" font-size="38.35" font-family="Liberation Sans, sans-serif">Merger&#160;Rate&#160;(Mergers&#160;Mpc</text><text x="460.31" y="-16.36" font-size="22.5" font-family="Liberation Sans, sans-serif">-3</text><text x="480.32" y="0" font-size="38.35" font-family="Liberation Sans, sans-serif">&#160;Gyr</text><text x="552.75" y="-16.36" font-size="22.5" font-family="Liberation Sans, sans-serif">-</text><path transform="translate(560.24,-16.36) scale(22.5,-22.5)" stroke="none" d="M.335 0V.698H.272C.25 .64 .17 .575 .08 .555V.494C.15 .51 .21 .55 .24 .582V0Z"/><text x="572.76" y="0" font-size="38.35" font-family="Liberation Sans, sans-serif">)</text></g>
<g transform="translate(353.74,1208.9) scale(1,1.07)" fill="#000" stroke="#000" stroke-width="0.4"><text x="0" y="0" font-size="38" font-family="Liberation Sans, sans-serif">log(</text></g>
<g transform="translate(427.98,1208.9) scale(1,1.07)" fill="#000" stroke="#000" stroke-width="0.4"><text x="0" y="0" font-size="38" font-family="Liberation Sans, sans-serif">M</text></g>
<g transform="translate(460.83,1219.4) scale(1,1.07)" fill="#000" stroke="#000" stroke-width="0.12"><text x="0" y="0" font-size="23" font-family="Liberation Sans, sans-serif">gal</text></g>
<g transform="translate(502.9,1208.9) scale(1,1.07)" fill="#000" stroke="#000" stroke-width="0.4"><text x="0" y="0" font-size="38" font-family="Liberation Sans, sans-serif">/</text></g>
<g transform="translate(524.08,1208.9) scale(1,1.07)" fill="#000" stroke="#000" stroke-width="0.4"><text x="0" y="0" font-size="38" font-family="Liberation Sans, sans-serif">M</text></g>
<circle cx="566.3" cy="1208.5" r="8.1" fill="none" stroke="#000" stroke-width="1.9"/><circle cx="566.3" cy="1208.5" r="3.1" fill="#000"/>
<g transform="translate(582.88,1208.9) scale(1,1.07)" fill="#000" stroke="#000" stroke-width="0.4"><text x="0" y="0" font-size="38" font-family="Liberation Sans, sans-serif">)</text></g>
<g transform="translate(281.58,44.6) scale(1,1.04)" fill="#000" stroke="#000" stroke-width="0.22"><text x="0" y="0" font-size="30.7" font-family="Liberation Sans, sans-serif">Major&#160;(</text></g>
<g transform="translate(379.6,44.6) scale(30.7,31.93)"><path d="M.04 -.475V.15M.04 -.13C.05 -.03 .11 -.012 .17 -.012C.27 -.012 .35 -.08 .37 -.18M.37 -.475V-.10C.37 -.03 .41 -.008 .45 -.014C.485 -.02 .505 -.04 .52 -.075" fill="none" stroke="#000" stroke-width=".078" stroke-linecap="butt"/><ellipse cx=".043" cy=".13" rx=".052" ry=".095" fill="#000"/></g>
<g transform="translate(395.39,51.6) scale(1,1.04)" fill="#000" stroke="#000" stroke-width="0.12"><text x="0" y="0" font-size="19.3" font-family="Liberation Sans, sans-serif">gal</text></g>
<g transform="translate(428.39,44.6) scale(1,1.04)" fill="#000" stroke="#000" stroke-width="0.22"><text x="0" y="0" font-size="30.7" font-family="Liberation Sans, sans-serif">&gt;&#160;</text><path transform="translate(26.46,0) scale(30.7,-30.7)" stroke="none" d="M.335 0V.698H.272C.25 .64 .17 .575 .08 .555V.494C.15 .51 .21 .55 .24 .582V0Z"/><text x="43.53" y="0" font-size="30.7" font-family="Liberation Sans, sans-serif">/3)</text></g>
<g transform="translate(281.58,74.8) scale(1,1.04)" fill="#000" stroke="#000" stroke-width="0.22"><text x="0" y="0" font-size="30.7" font-family="Liberation Sans, sans-serif">Major+Minor&#160;(</text></g>
<g transform="translate(474.3,74.8) scale(30.7,31.93)"><path d="M.04 -.475V.15M.04 -.13C.05 -.03 .11 -.012 .17 -.012C.27 -.012 .35 -.08 .37 -.18M.37 -.475V-.10C.37 -.03 .41 -.008 .45 -.014C.485 -.02 .505 -.04 .52 -.075" fill="none" stroke="#000" stroke-width=".078" stroke-linecap="butt"/><ellipse cx=".043" cy=".13" rx=".052" ry=".095" fill="#000"/></g>
<g transform="translate(490.09,81.8) scale(1,1.04)" fill="#000" stroke="#000" stroke-width="0.12"><text x="0" y="0" font-size="19.3" font-family="Liberation Sans, sans-serif">gal</text></g>
<g transform="translate(523.09,74.8) scale(1,1.04)" fill="#000" stroke="#000" stroke-width="0.22"><text x="0" y="0" font-size="30.7" font-family="Liberation Sans, sans-serif">&gt;&#160;</text><path transform="translate(26.46,0) scale(30.7,-30.7)" stroke="none" d="M.335 0V.698H.272C.25 .64 .17 .575 .08 .555V.494C.15 .51 .21 .55 .24 .582V0Z"/><text x="43.53" y="0" font-size="30.7" font-family="Liberation Sans, sans-serif">/</text><path transform="translate(52.06,0) scale(30.7,-30.7)" stroke="none" d="M.335 0V.698H.272C.25 .64 .17 .575 .08 .555V.494C.15 .51 .21 .55 .24 .582V0Z"/><text x="69.13" y="0" font-size="30.7" font-family="Liberation Sans, sans-serif">0)</text></g>
<g transform="translate(469.68,667.2) scale(1,1.04)" fill="#000" stroke="#000" stroke-width="0.22"><text x="0" y="0" font-size="30.7" font-family="Liberation Sans, sans-serif">Major&#160;(</text></g>
<g transform="translate(567.7,667.2) scale(30.7,31.93)"><path d="M.04 -.475V.15M.04 -.13C.05 -.03 .11 -.012 .17 -.012C.27 -.012 .35 -.08 .37 -.18M.37 -.475V-.10C.37 -.03 .41 -.008 .45 -.014C.485 -.02 .505 -.04 .52 -.075" fill="none" stroke="#000" stroke-width=".078" stroke-linecap="butt"/><ellipse cx=".043" cy=".13" rx=".052" ry=".095" fill="#000"/></g>
<g transform="translate(583.49,674.2) scale(1,1.04)" fill="#000" stroke="#000" stroke-width="0.12"><text x="0" y="0" font-size="19.3" font-family="Liberation Sans, sans-serif">gal</text></g>
<g transform="translate(616.49,667.2) scale(1,1.04)" fill="#000" stroke="#000" stroke-width="0.22"><text x="0" y="0" font-size="30.7" font-family="Liberation Sans, sans-serif">&gt;&#160;</text><path transform="translate(26.46,0) scale(30.7,-30.7)" stroke="none" d="M.335 0V.698H.272C.25 .64 .17 .575 .08 .555V.494C.15 .51 .21 .55 .24 .582V0Z"/><text x="43.53" y="0" font-size="30.7" font-family="Liberation Sans, sans-serif">/3)</text></g>
<g transform="translate(469.68,704.5) scale(1,1.04)" fill="#000" stroke="#000" stroke-width="0.22"><text x="0" y="0" font-size="30.7" font-family="Liberation Sans, sans-serif">Major+Minor&#160;(</text></g>
<g transform="translate(662.4,704.5) scale(30.7,31.93)"><path d="M.04 -.475V.15M.04 -.13C.05 -.03 .11 -.012 .17 -.012C.27 -.012 .35 -.08 .37 -.18M.37 -.475V-.10C.37 -.03 .41 -.008 .45 -.014C.485 -.02 .505 -.04 .52 -.075" fill="none" stroke="#000" stroke-width=".078" stroke-linecap="butt"/><ellipse cx=".043" cy=".13" rx=".052" ry=".095" fill="#000"/></g>
<g transform="translate(678.19,711.5) scale(1,1.04)" fill="#000" stroke="#000" stroke-width="0.12"><text x="0" y="0" font-size="19.3" font-family="Liberation Sans, sans-serif">gal</text></g>
<g transform="translate(711.19,704.5) scale(1,1.04)" fill="#000" stroke="#000" stroke-width="0.22"><text x="0" y="0" font-size="30.7" font-family="Liberation Sans, sans-serif">&gt;&#160;</text><path transform="translate(26.46,0) scale(30.7,-30.7)" stroke="none" d="M.335 0V.698H.272C.25 .64 .17 .575 .08 .555V.494C.15 .51 .21 .55 .24 .582V0Z"/><text x="43.53" y="0" font-size="30.7" font-family="Liberation Sans, sans-serif">/</text><path transform="translate(52.06,0) scale(30.7,-30.7)" stroke="none" d="M.335 0V.698H.272C.25 .64 .17 .575 .08 .555V.494C.15 .51 .21 .55 .24 .582V0Z"/><text x="69.13" y="0" font-size="30.7" font-family="Liberation Sans, sans-serif">0)</text></g>
<g transform="translate(539.34,479.9) scale(1,1.04)" fill="#000" stroke="#000" stroke-width="0.22"><text x="0" y="0" font-size="30.7" font-family="Liberation Sans, sans-serif">t</text></g>
<g transform="translate(547.39,486.2) scale(1,1.04)" fill="#000" stroke="#000" stroke-width="0.12"><text x="0" y="0" font-size="19.3" font-family="Liberation Sans, sans-serif">obs</text></g>
<g transform="translate(587.1,479.9) scale(1,1.04)" fill="#000" stroke="#000" stroke-width="0.22"><text x="0" y="0" font-size="30.7" font-family="Liberation Sans, sans-serif">=</text></g>
<g transform="translate(612.7,479.9) scale(1,1.04)" fill="#000" stroke="#000" stroke-width="0.22"><text x="0" y="0" font-size="30.7" font-family="Liberation Sans, sans-serif">0.5</text></g>
<g transform="translate(666.64,479.9) scale(1,1.04)" fill="#000" stroke="#000" stroke-width="0.22"><text x="0" y="0" font-size="30.7" font-family="Liberation Sans, sans-serif">-</text></g>
<g transform="translate(686.54,479.9) scale(1,1.04)" fill="#000" stroke="#000" stroke-width="0.22"><path transform="translate(0,0) scale(30.7,-30.7)" stroke="none" d="M.335 0V.698H.272C.25 .64 .17 .575 .08 .555V.494C.15 .51 .21 .55 .24 .582V0Z"/><text x="17.07" y="0" font-size="30.7" font-family="Liberation Sans, sans-serif">.0</text></g>
<g transform="translate(733.66,479.9) scale(1,1.04)" fill="#000" stroke="#000" stroke-width="0.22"><text x="0" y="0" font-size="30.7" font-family="Liberation Sans, sans-serif">Gyr</text></g>
<g transform="translate(610.34,739.4) scale(1,1.04)" fill="#000" stroke="#000" stroke-width="0.22"><text x="0" y="0" font-size="30.7" font-family="Liberation Sans, sans-serif">t</text></g>
<g transform="translate(618.39,745.7) scale(1,1.04)" fill="#000" stroke="#000" stroke-width="0.12"><text x="0" y="0" font-size="19.3" font-family="Liberation Sans, sans-serif">obs</text></g>
<g transform="translate(656.3,739.4) scale(1,1.04)" fill="#000" stroke="#000" stroke-width="0.22"><text x="0" y="0" font-size="30.7" font-family="Liberation Sans, sans-serif">=</text></g>
<g transform="translate(684.94,739.4) scale(1,1.04)" fill="#000" stroke="#000" stroke-width="0.22"><path transform="translate(0,0) scale(30.7,-30.7)" stroke="none" d="M.335 0V.698H.272C.25 .64 .17 .575 .08 .555V.494C.15 .51 .21 .55 .24 .582V0Z"/><text x="17.07" y="0" font-size="30.7" font-family="Liberation Sans, sans-serif">.0</text></g>
<g transform="translate(734.56,739.4) scale(1,1.04)" fill="#000" stroke="#000" stroke-width="0.22"><text x="0" y="0" font-size="30.7" font-family="Liberation Sans, sans-serif">Gyr</text></g>
<g transform="translate(165.23,1076.8) scale(1,1.04)" fill="#000" stroke="#000" stroke-width="0.22"><text x="0" y="0" font-size="33.8" font-family="Liberation Sans, sans-serif">z&#160;=&#160;0.6</text></g>
</svg>
</body></html>
